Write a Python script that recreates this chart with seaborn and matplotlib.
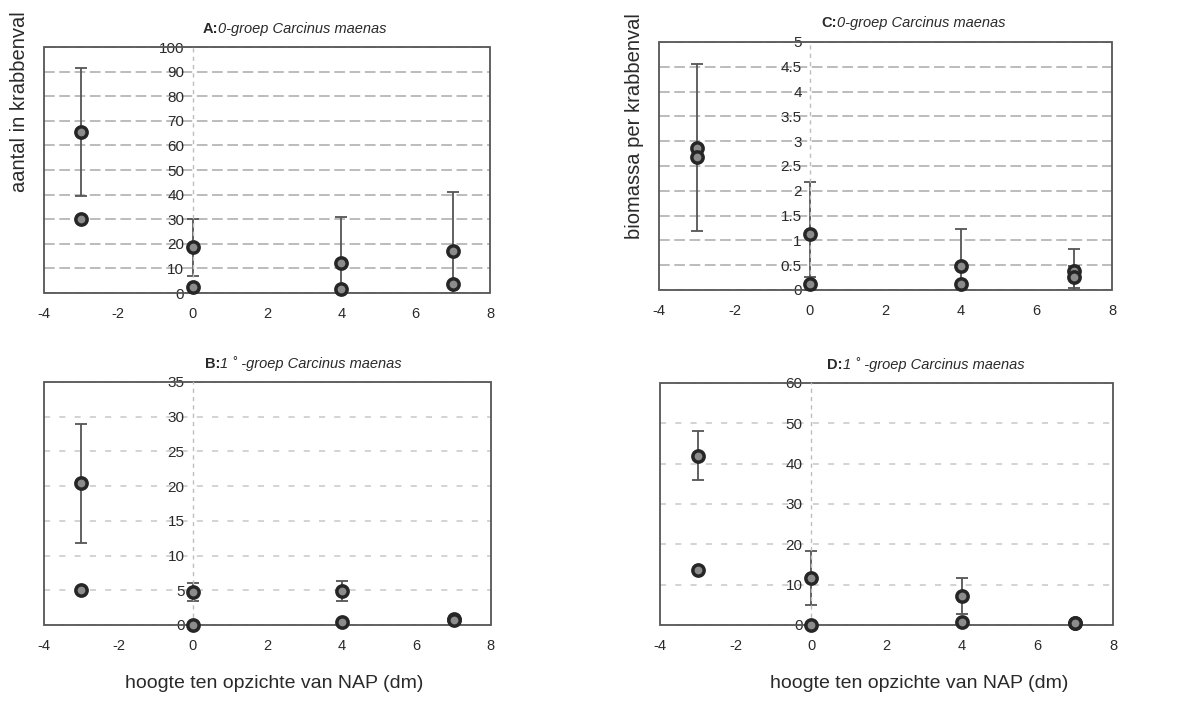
import numpy as np
import pandas as pd
import matplotlib
matplotlib.use("Agg")
import matplotlib.pyplot as plt
from matplotlib.patches import Rectangle
import seaborn as sns

sns.set_style("white")
plt.rcParams["font.family"] = ["Liberation Sans", "DejaVu Sans"]

# sampling heights relative to NAP (dm)
heights = [-3, 0, 4, 7]

# A: 0-groep, aantal per krabbenval
a_mean = [65.3, 18.6, 12.1, 17.0]
a_err = [26.0, 11.5, 18.9, 24.2]
a_other = [30.2, 2.3, 1.8, 3.7]

# B: 1+-groep, aantal per krabbenval
b_mean = [20.4, 4.8, 4.9, 0.9]
b_err = [8.6, 1.3, 1.4, 0.3]
b_other = [5.1, 0.0, 0.4, 0.7]

# C: 0-groep, biomassa per krabbenval
c_mean = [2.87, 1.13, 0.49, 0.38]
c_err = [1.69, 1.05, 0.73, 0.45]
c_other = [2.69, 0.13, 0.12, 0.27]
c_other_err = [0.0, 0.13, 0.0, 0.22]

# D: 1+-groep, biomassa per krabbenval
d_mean = [42.0, 11.65, 7.2, 0.5]
d_err = [6.1, 6.65, 4.45, 0.0]
d_other = [13.6, 0.0, 0.8, 0.4]

x_ticks = [-4, -2, 0, 2, 4, 6, 8]

panels = [
    dict(rect=[0.0369, 0.5832, 0.3745, 0.3499], mean=a_mean, err=a_err,
         other=a_other, other_err=None, ymax=100, ystep=10,
         tag="A:", name="0-groep Carcinus maenas", tx=0.356, grid="#a9a9a9",
         dash=(0, (7, 3))),
    dict(rect=[0.0369, 0.1110, 0.3753, 0.3457], mean=b_mean, err=b_err,
         other=b_other, other_err=None, ymax=35, ystep=5,
         tag="B:", name="1 \u02da -groep Carcinus maenas", tx=0.360, grid="#c8c8c8",
         dash=(0, (4, 6))),
    dict(rect=[0.5533, 0.5875, 0.3804, 0.3528], mean=c_mean, err=c_err,
         other=c_other, other_err=c_other_err, ymax=5, ystep=0.5,
         tag="C:", name="0-groep Carcinus maenas", tx=0.358, grid="#a9a9a9",
         dash=(0, (7, 3))),
    dict(rect=[0.5542, 0.1110, 0.3804, 0.3442], mean=d_mean, err=d_err,
         other=d_other, other_err=None, ymax=60, ystep=10,
         tag="D:", name="1 \u02da -groep Carcinus maenas", tx=0.369, grid="#c8c8c8",
         dash=(0, (4, 6))),
]

fig = plt.figure(figsize=(11.91, 7.03), dpi=100)
fig.patch.set_facecolor("white")

edge = "#262626"
face = "#8c8c8c"
bar_col = "#555555"
txt_col = "#2a2a2a"

for p in panels:
    ax = fig.add_axes(p["rect"])
    df = pd.DataFrame({
        "hoogte": heights * 2,
        "waarde": list(p["mean"]) + list(p["other"]),
        "reeks": ["gemiddeld"] * 4 + ["tweede"] * 4,
    })

    ax.errorbar(heights, p["mean"], yerr=p["err"], fmt="none", ecolor=bar_col,
                elinewidth=1.3, capsize=4.5, capthick=1.3, zorder=2)
    if p["other_err"] is not None:
        ax.errorbar(heights, p["other"], yerr=p["other_err"], fmt="none",
                    ecolor=bar_col, elinewidth=1.3, capsize=4.5, capthick=1.3,
                    zorder=2)

    sns.scatterplot(data=df, x="hoogte", y="waarde", ax=ax, marker="o", s=66,
                    color=face, edgecolor=edge, linewidth=2.5, legend=False,
                    zorder=3, clip_on=False)

    ax.set_xlim(-4, 8)
    ax.set_ylim(0, p["ymax"])
    ax.set_xticks(x_ticks)
    ax.set_xticklabels([str(v) for v in x_ticks])
    yt = np.arange(0, p["ymax"] + p["ystep"] / 2, p["ystep"])
    ax.set_yticks(yt)
    ax.set_yticklabels([f"{v:g}" for v in yt])
    ax.set_xlabel("")
    ax.set_ylabel("")

    # y axis crosses at x = 0
    ax.spines["left"].set_position(("data", 0))
    ax.spines["left"].set_color("#bdbdbd")
    ax.spines["left"].set_linestyle((0, (2, 4)))
    ax.spines["left"].set_linewidth(1.0)
    for s in ["top", "right", "bottom"]:
        ax.spines[s].set_visible(False)
    ax.add_patch(Rectangle((0, 0), 1, 1, transform=ax.transAxes, fill=False,
                           ec="#555555", lw=1.3, clip_on=False, zorder=1))

    ax.yaxis.grid(True, color=p["grid"], linestyle=p["dash"], linewidth=1.1)
    ax.xaxis.grid(False)
    ax.set_axisbelow(True)

    ax.tick_params(axis="x", length=0, pad=10, labelsize=10.5, colors=txt_col)
    ax.tick_params(axis="y", length=4, width=1, direction="out", pad=2,
                   labelsize=11, colors=txt_col)

    t1 = ax.text(p["tx"], 1.075, p["tag"], transform=ax.transAxes, ha="left",
                 va="center", fontsize=10.5, fontweight="bold", color=txt_col)
    ax.annotate(p["name"], xy=(1, 0.5), xycoords=t1, ha="left", va="center",
                fontsize=10.5, fontstyle="italic", color=txt_col)

fig.text(0.016, 0.855, "aantal in krabbenval", rotation=90, ha="center",
         va="center", fontsize=14.5, color=txt_col)
fig.text(0.533, 0.82, "biomassa per krabbenval", rotation=90, ha="center",
         va="center", fontsize=14.5, color=txt_col)
fig.text(0.230, 0.016, "hoogte ten opzichte van NAP (dm)", ha="center",
         va="bottom", fontsize=14, color=txt_col)
fig.text(0.772, 0.016, "hoogte ten opzichte van NAP (dm)", ha="center",
         va="bottom", fontsize=14, color=txt_col)

fig.savefig("out.png", dpi=100, facecolor="white")
